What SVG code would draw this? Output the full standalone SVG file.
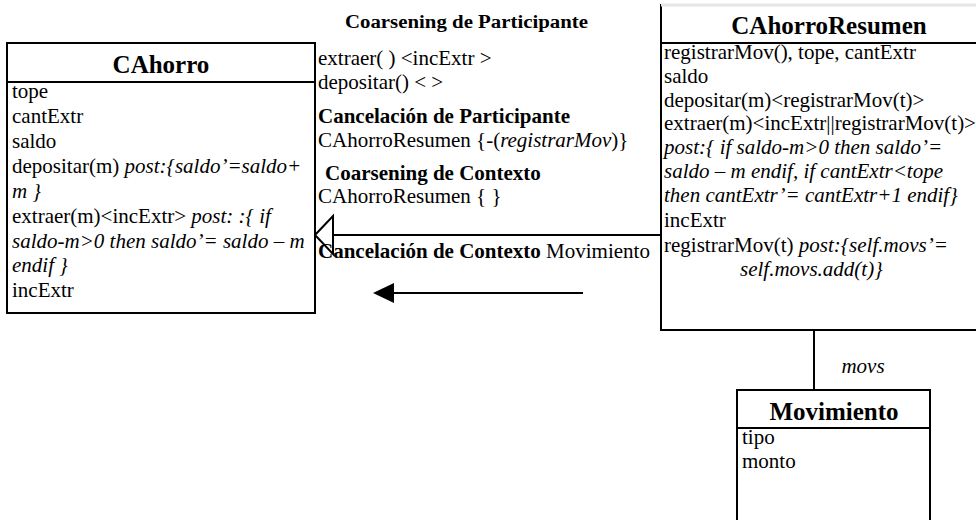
<svg xmlns="http://www.w3.org/2000/svg" width="976" height="520" viewBox="0 0 976 520">
<style>
.box{fill:#fff;stroke:#000;stroke-width:2}
.ln{stroke:#000;stroke-width:2;fill:none}
text{font-family:'Liberation Serif','Tinos','Times New Roman','DejaVu Serif',serif;font-size:21px;fill:#000}
.ttl{font-size:25px;font-weight:bold}
.b{font-weight:bold}
.i{font-style:italic}
</style>
<rect width="976" height="520" fill="#fff"/>
<g id="connectors">
<line class="ln" x1="333" y1="235" x2="661" y2="235"/>
<polygon points="315,235 333,216 333,254" fill="#fff" stroke="#000" stroke-width="2"/>
<line class="ln" x1="583" y1="293" x2="390" y2="293"/>
<polygon points="373,293 394,283 394,303" fill="#000"/>
<line class="ln" x1="814" y1="330" x2="814" y2="390"/>
<text class="i" x="863" y="373" text-anchor="middle">movs</text>
</g>
<g id="CAhorro">
<rect class="box" x="7" y="43" width="308" height="270"/>
<line class="ln" x1="7" y1="82" x2="315" y2="82"/>
<text class="ttl" x="161" y="73" text-anchor="middle">CAhorro</text>
<text x="12" y="98">tope</text>
<text x="12" y="123">cantExtr</text>
<text x="12" y="148">saldo</text>
<text x="12" y="173">depositar(m) <tspan class="i">post:{saldo’=saldo+</tspan></text>
<text class="i" x="12" y="198">m }</text>
<text x="12" y="223">extraer(m)&lt;incExtr&gt; <tspan class="i">post: :{ if</tspan></text>
<text class="i" x="12" y="248">saldo-m&gt;0 then saldo’= saldo – m</text>
<text class="i" x="12" y="272">endif }</text>
<text x="12" y="297">incExtr</text>
</g>
<g id="labels">
<text class="b" x="345" y="28" style="font-size:18.5px" textLength="243" lengthAdjust="spacingAndGlyphs">Coarsening de Participante</text>
<text x="318" y="65">extraer( ) &lt;incExtr &gt;</text>
<text x="318" y="89">depositar() &lt; &gt;</text>
<text class="b" x="318" y="123">Cancelación de Participante</text>
<text x="318" y="147">CAhorroResumen {-(<tspan class="i">registrarMov</tspan>)}</text>
<text class="b" x="325" y="180">Coarsening de Contexto</text>
<text x="318" y="203">CAhorroResumen { }</text>
<text x="318" y="258"><tspan class="b">Cancelación de Contexto</tspan> Movimiento</text>
</g>
<g id="CAhorroResumen">
<rect class="box" x="661" y="5" width="318" height="325"/>
<line x1="661" y1="5" x2="976" y2="5" stroke="#e6e6e6" stroke-width="3"/>
<line class="ln" x1="661" y1="43" x2="978" y2="43"/>
<text class="ttl" x="829" y="34" text-anchor="middle">CAhorroResumen</text>
<text x="664" y="59">registrarMov(), tope, cantExtr</text>
<text x="664" y="83">saldo</text>
<text x="664" y="107">depositar(m)&lt;registrarMov(t)&gt;</text>
<text x="664" y="130">extraer(m)&lt;incExtr||registrarMov(t)&gt;</text>
<text class="i" x="664" y="154">post:{ if saldo-m&gt;0 then saldo’=</text>
<text class="i" x="664" y="178">saldo – m endif, if cantExtr&lt;tope</text>
<text class="i" x="664" y="202">then cantExtr’= cantExtr+1 endif}</text>
<text x="664" y="227">incExtr</text>
<text x="664" y="252">registrarMov(t) <tspan class="i">post:{self.movs’=</tspan></text>
<text class="i" x="740" y="276">self.movs.add(t)}</text>
</g>
<g id="Movimiento">
<rect class="box" x="737" y="390" width="193" height="140"/>
<line class="ln" x1="737" y1="428" x2="930" y2="428"/>
<text class="ttl" x="834" y="420" text-anchor="middle">Movimiento</text>
<text x="742" y="444">tipo</text>
<text x="742" y="468">monto</text>
</g>
</svg>
